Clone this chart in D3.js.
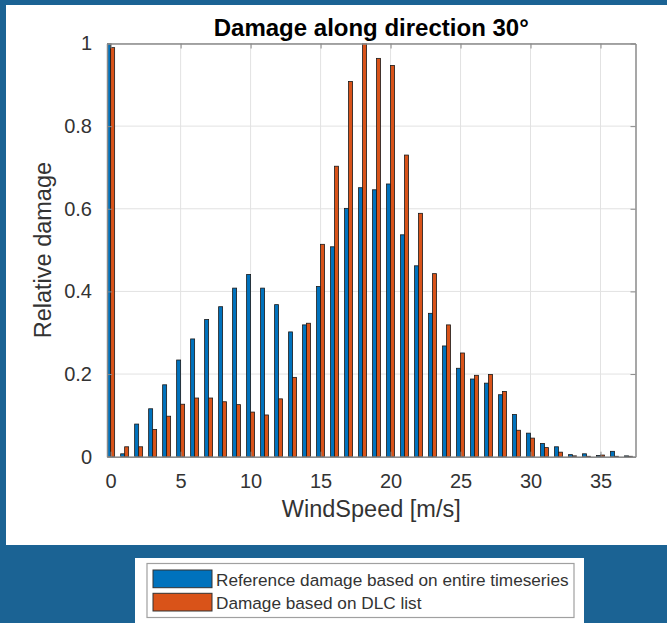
<!DOCTYPE html>
<html>
<head>
<meta charset="utf-8">
<script src="https://cdn.jsdelivr.net/npm/d3@7"></script>
<style>
  body { margin: 0; background: #1b6394; }
  svg { display: block; }
</style>
</head>
<body>
<div id="chart"></div>
<script>
// wind speed bins [m/s]
const speeds = d3.range(0, 38);
// reference damage based on entire timeseries
const refDamage = [1.0, 0.007, 0.079, 0.116, 0.174, 0.234, 0.285, 0.332, 0.363, 0.408,
  0.441, 0.408, 0.368, 0.302, 0.319, 0.412, 0.508, 0.601, 0.651, 0.646,
  0.660, 0.537, 0.462, 0.347, 0.268, 0.214, 0.188, 0.178, 0.150, 0.102,
  0.057, 0.032, 0.024, 0.005, 0.007, 0.003, 0.013, 0.002];
// damage based on DLC list
const dlcDamage = [0.99, 0.024, 0.024, 0.066, 0.098, 0.127, 0.142, 0.142, 0.133, 0.126,
  0.108, 0.101, 0.140, 0.192, 0.323, 0.514, 0.703, 0.908, 1.0, 0.964,
  0.947, 0.730, 0.589, 0.443, 0.319, 0.251, 0.197, 0.199, 0.158, 0.064,
  0.045, 0.022, 0.011, 0.002, 0.001, 0.004, 0.001, 0.001];
const xTicks = [0, 5, 10, 15, 20, 25, 30, 35];
const yTicks = [0, 0.2, 0.4, 0.6, 0.8, 1];
const seriesNames = ["Reference damage based on entire timeseries", "Damage based on DLC list"];
const seriesColors = ["#0072bd", "#d95319"];

const W = 667, H = 623;
const font = "'Liberation Sans', Arial, Helvetica, sans-serif";
const plotL = 107, plotR = 635.5, plotT = 43.5, plotB = 456.7;

const svg = d3.select("#chart").append("svg")
  .attr("width", W)
  .attr("height", H);

// white figure panel + legend panel
svg.append("rect").attr("x", 6).attr("y", 5).attr("width", W - 6).attr("height", 540).attr("fill", "#fff");
svg.append("rect").attr("x", 135).attr("y", 558).attr("width", 449).attr("height", 65).attr("fill", "#fff");

const x = d3.scaleLinear().domain([-0.26, 37.5]).range([plotL, plotR]);
const y = d3.scaleLinear().domain([0, 1]).range([plotB, plotT]);
const barW = x(0.285) - x(0);
const sub = d3.scaleBand().domain([0, 1]).range([-barW, barW]);

svg.append("defs").append("clipPath").attr("id", "plot-clip")
  .append("rect")
  .attr("x", plotL).attr("y", plotT)
  .attr("width", plotR - plotL).attr("height", plotB - plotT);

// grid
const grid = svg.append("g").attr("stroke", "#e2e2e2").attr("stroke-width", 1);
grid.selectAll("line.v")
  .data(xTicks)
  .join("line")
  .attr("class", "v")
  .attr("x1", d => x(d)).attr("x2", d => x(d))
  .attr("y1", plotT).attr("y2", plotB);
grid.selectAll("line.h")
  .data(yTicks)
  .join("line")
  .attr("class", "h")
  .attr("x1", plotL).attr("x2", plotR)
  .attr("y1", d => y(d)).attr("y2", d => y(d));

// bars
const rows = speeds.map((s, i) => ({ s, vals: [refDamage[i], dlcDamage[i]] }));
const bars = svg.append("g").attr("clip-path", "url(#plot-clip)");
bars.selectAll("g")
  .data(rows)
  .join("g")
  .attr("transform", d => `translate(${x(d.s)},0)`)
  .selectAll("rect")
  .data(d => d.vals.map((v, k) => ({ k, v })))
  .join("rect")
  .attr("x", d => sub(d.k))
  .attr("y", d => y(d.v))
  .attr("width", sub.bandwidth())
  .attr("height", d => y(0) - y(d.v))
  .attr("fill", d => seriesColors[d.k])
  .attr("stroke", "#1a1a1a")
  .attr("stroke-width", 0.8);

// axes (box with inward ticks)
const styleAxis = g => {
  g.select(".domain").attr("stroke", "#8a8a8a").attr("stroke-width", 1.5);
  g.selectAll(".tick line").attr("stroke", "#8a8a8a");
  g.selectAll(".tick text").attr("fill", "#333").style("font-family", font);
};

svg.append("g")
  .attr("transform", `translate(0,${plotB})`)
  .call(d3.axisBottom(x).tickValues(xTicks).tickSize(-5).tickSizeOuter(0).tickPadding(17))
  .call(styleAxis)
  .selectAll(".tick text").style("font-size", "20px");

svg.append("g")
  .attr("transform", `translate(0,${plotT})`)
  .call(d3.axisTop(x).tickValues(xTicks).tickSize(-5).tickSizeOuter(0).tickFormat(""))
  .call(styleAxis);

svg.append("g")
  .attr("transform", `translate(${plotL},0)`)
  .call(d3.axisLeft(y).tickValues(yTicks).tickSize(-5).tickSizeOuter(0).tickPadding(15).tickFormat(d3.format("~g")))
  .call(styleAxis)
  .selectAll(".tick text").style("font-size", "20px");

svg.append("g")
  .attr("transform", `translate(${plotR},0)`)
  .call(d3.axisRight(y).tickValues(yTicks).tickSize(-5).tickSizeOuter(0).tickFormat(""))
  .call(styleAxis);

// title and labels
svg.append("text")
  .attr("x", (plotL + plotR) / 2).attr("y", 36)
  .attr("text-anchor", "middle")
  .style("font-family", font).style("font-size", "24px").style("font-weight", "bold")
  .attr("fill", "#000")
  .text("Damage along direction 30°");

svg.append("text")
  .attr("x", (plotL + plotR) / 2).attr("y", 517)
  .attr("text-anchor", "middle")
  .style("font-family", font).style("font-size", "23.5px")
  .attr("fill", "#333")
  .text("WindSpeed [m/s]");

svg.append("text")
  .attr("transform", `translate(43,${(plotT + plotB) / 2}) rotate(-90)`)
  .attr("text-anchor", "middle")
  .attr("dominant-baseline", "central")
  .style("font-family", font).style("font-size", "23.5px")
  .attr("fill", "#333")
  .text("Relative damage");

// legend
const legend = svg.append("g");
legend.append("rect")
  .attr("x", 147).attr("y", 563.5).attr("width", 427).attr("height", 54)
  .attr("fill", "#fff").attr("stroke", "#a0a0a0").attr("stroke-width", 1.2);

const items = legend.selectAll("g.item")
  .data(seriesNames)
  .join("g")
  .attr("class", "item")
  .attr("transform", (d, i) => `translate(153,${570 + i * 23.3})`);
items.append("rect")
  .attr("width", 59).attr("height", 17.7)
  .attr("fill", (d, i) => seriesColors[i])
  .attr("stroke", "#333").attr("stroke-width", 1);
items.append("text")
  .attr("x", 63).attr("y", 9.5)
  .attr("dominant-baseline", "central")
  .style("font-family", font).style("font-size", "17.2px")
  .attr("fill", "#333")
  .text(d => d);
</script>
</body>
</html>
